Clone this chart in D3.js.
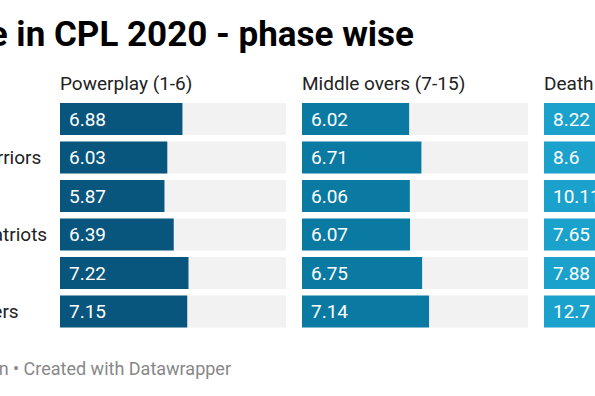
<!DOCTYPE html>
<html>
<head>
<meta charset="utf-8">
<script src="https://cdn.jsdelivr.net/npm/d3@7"></script>
<style>
  body { margin: 0; background: #fff; overflow: hidden; }
  svg { display: block; font-family: Roboto, sans-serif; }
</style>
</head>
<body>
<svg></svg>
<script>
const width = 595;
const height = 396;

// data
const teams = ["Barbados Tridents", "Guyana Amazon Warriors", "Jamaica Tallawahs",
    "St Kitts and Nevis Patriots", "St Lucia Zouks", "Trinbago Knight Riders"];
const phases = ["Powerplay (1-6)", "Middle overs (7-15)", "Death overs (16-20)"];
const powerplay = [6.88, 6.03, 5.87, 6.39, 7.22, 7.15];
const middle = [6.02, 6.71, 6.06, 6.07, 6.75, 7.14];
const death = [8.22, 8.6, 10.11, 7.65, 7.88, 12.7];
const colors = ["#08557d", "#0a7aa3", "#1ba2cc"];

const series = [powerplay, middle, death];

const margin = ({ top: 103, left: 60 });
const colWidth = 226;
const colGap = 16;
const rowStep = 38.5;
const barHeight = 32;

const svg = d3.select("svg")
    .attr("width", width)
    .attr("height", height);

const x = d3.scaleLinear()
    .domain([0, d3.max(death)])
    .range([0, colWidth]);

const y = d3.scaleBand()
    .domain(teams)
    .range([margin.top, margin.top + rowStep * teams.length - (rowStep - barHeight)])
    .paddingInner((rowStep - barHeight) / rowStep)
    .paddingOuter(0);

const col = d3.scaleBand()
    .domain(phases)
    .range([margin.left, margin.left + (colWidth + colGap) * phases.length - colGap])
    .paddingInner(colGap / (colWidth + colGap))
    .paddingOuter(0);

// title
svg.append("text")
    .attr("x", 414)
    .attr("y", 46)
    .attr("text-anchor", "end")
    .attr("font-size", 35)
    .attr("font-weight", 700)
    .attr("fill", "#000")
    .text("Bowling economy rate in CPL 2020 - phase wise");

// team labels (left side, mostly cut off)
svg.append("g")
    .selectAll("text")
    .data(teams)
    .join("text")
    .attr("x", -173)
    .attr("y", d => y(d) + y.bandwidth() / 2 + 6.5)
    .attr("font-size", 19)
    .attr("fill", "#222")
    .text(d => d);

phases.forEach((p, i) => {
    const g = svg.append("g")
        .attr("transform", `translate(${col(p)},0)`);

    g.append("text")
        .attr("x", 0)
        .attr("y", 90)
        .attr("font-size", 19)
        .attr("fill", "#222")
        .text(p);

    g.selectAll("rect.bg")
        .data(teams)
        .join("rect")
        .attr("class", "bg")
        .attr("x", 0)
        .attr("y", d => y(d))
        .attr("width", colWidth)
        .attr("height", y.bandwidth())
        .attr("fill", "#f2f2f2");

    g.selectAll("rect.bar")
        .data(series[i])
        .join("rect")
        .attr("class", "bar")
        .attr("x", 0)
        .attr("y", (d, j) => y(teams[j]))
        .attr("width", d => x(d))
        .attr("height", y.bandwidth())
        .attr("fill", colors[i]);

    g.selectAll("text.val")
        .data(series[i])
        .join("text")
        .attr("class", "val")
        .attr("x", 9)
        .attr("y", (d, j) => y(teams[j]) + y.bandwidth() / 2 + 6.5)
        .attr("font-size", 19)
        .attr("fill", "#fff")
        .text(d => d);
});

// footer
svg.append("text")
    .attr("x", 231)
    .attr("y", 375)
    .attr("text-anchor", "end")
    .attr("font-size", 18)
    .attr("fill", "#888")
    .text("Source: ESPNcricinfo \u2022 Chart: Rohan \u2022 Created with Datawrapper");
</script>
</body>
</html>
